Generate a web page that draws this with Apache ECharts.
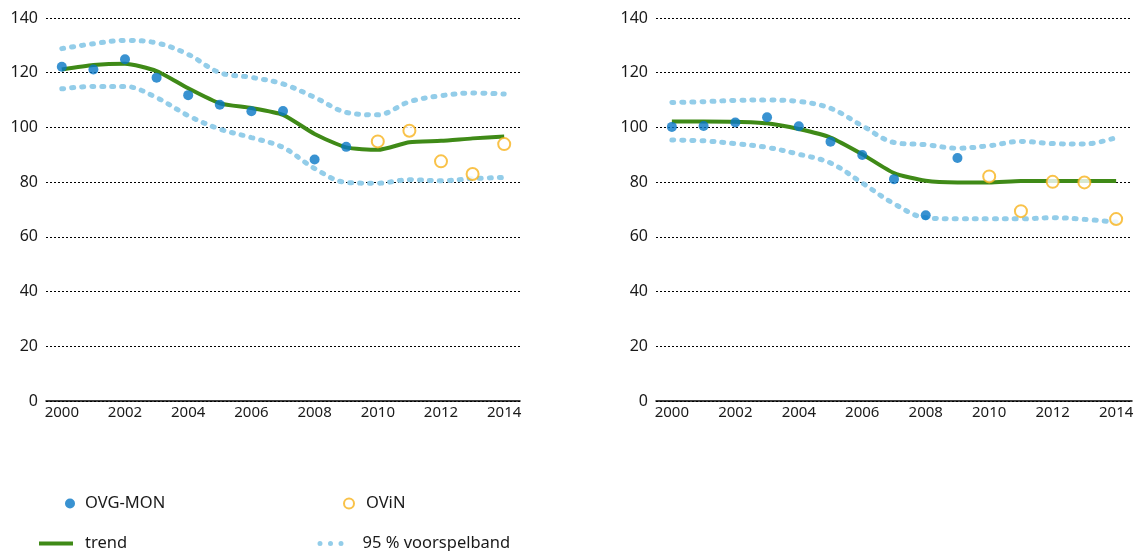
<!DOCTYPE html>
<html>
<head>
<meta charset="utf-8">
<script src="https://cdn.jsdelivr.net/npm/echarts@6/dist/echarts.min.js"></script>
<style>
  html, body { margin: 0; padding: 0; background: #fff; }
  #chart { width: 1144px; height: 551px; }
</style>
</head>
<body>
<div id="chart"></div>
<script>
// jaren op de x-as
var years = ['2000', '2001', '2002', '2003', '2004', '2005', '2006', '2007',
  '2008', '2009', '2010', '2011', '2012', '2013', '2014'];

// linker grafiek
var leftOvg = [122.2, 121.2, 124.9, 118.2, 111.8, 108.3, 105.9, 106.0, 88.3, 92.9,
  null, null, null, null, null];
var leftOvin = [null, null, null, null, null, null, null, null, null, null,
  94.9, 98.8, 87.6, 83.0, 93.9];
var leftTrend = [121.2, 122.8, 123.3, 120.6, 114.3, 108.8, 107.1, 104.6, 97.6, 92.7,
  91.8, 94.6, 95.1, 96.0, 96.7];
var leftUpper = [128.8, 130.6, 131.8, 130.9, 126.7, 120.0, 118.3, 115.9, 111.0, 105.5,
  104.6, 109.4, 111.6, 112.6, 112.2];
var leftLower = [114.1, 115.0, 115.0, 110.9, 104.3, 99.4, 96.3, 92.7, 85.0, 79.9,
  79.6, 80.9, 80.5, 81.3, 81.7];

// rechter grafiek
var rightOvg = [100.2, 100.5, 101.8, 103.7, 100.4, 94.8, 89.9, 81.1, 67.9, 88.8,
  null, null, null, null, null];
var rightOvin = [null, null, null, null, null, null, null, null, null, null,
  82.1, 69.4, 80.1, 79.9, 66.5];
var rightTrend = [102.2, 102.2, 102.1, 101.5, 99.4, 96.3, 90.2, 83.3, 80.5, 79.9,
  79.9, 80.4, 80.4, 80.4, 80.4];
var rightUpper = [109.1, 109.4, 109.9, 110.0, 109.5, 107.0, 100.6, 94.5, 93.7, 92.4,
  93.3, 94.9, 94.1, 93.9, 96.3];
var rightLower = [95.4, 95.1, 94.1, 92.7, 90.2, 87.0, 79.7, 72.1, 67.0, 66.6,
  66.6, 66.6, 67.0, 66.4, 65.4];

var FONT = 'Noto Sans';
var TEXT = '#1a1a1a';
var BLUE = '#0877c6';
var ORANGE = '#f7b31b';
var GREEN = '#3f8a17';
var BAND = '#93cde9';

// drie stipjes voor de legenda van de voorspelband
var DOTS = 'path://M0,2.5a2.5,2.5 0 1,0 5,0a2.5,2.5 0 1,0 -5,0Z' +
  'M10.5,2.5a2.5,2.5 0 1,0 5,0a2.5,2.5 0 1,0 -5,0Z' +
  'M21,2.5a2.5,2.5 0 1,0 5,0a2.5,2.5 0 1,0 -5,0Z';

var chart = echarts.init(document.getElementById('chart'));

function xAxisFor(idx) {
  return {
    type: 'category',
    gridIndex: idx,
    data: years,
    boundaryGap: true,
    axisLine: { lineStyle: { color: '#000', width: 1.5 } },
    axisTick: { inside: true, alignWithLabel: true, interval: 0, length: 7,
      lineStyle: { color: '#000', width: 1.2 } },
    axisLabel: { interval: 1, color: TEXT, fontFamily: FONT, fontSize: 15, margin: 4 }
  };
}

function yAxisFor(idx) {
  return {
    type: 'value',
    gridIndex: idx,
    min: 0, max: 140, interval: 20,
    axisLine: { show: false },
    axisTick: { show: false },
    axisLabel: { color: TEXT, fontFamily: FONT, fontSize: 16, margin: 8 },
    splitLine: { lineStyle: { color: '#000', type: [2, 2], width: 1 } }
  };
}

function seriesFor(idx, ovg, ovin, trend, upper, lower) {
  return [
    {
      name: '95 % voorspelband', type: 'line', xAxisIndex: idx, yAxisIndex: idx,
      data: upper, smooth: 0.35, showSymbol: false, symbol: 'none',
      lineStyle: { color: BAND, width: 5, type: [2, 8], cap: 'round' },
      itemStyle: { color: BAND }, z: 2
    },
    {
      name: '95 % voorspelband', type: 'line', xAxisIndex: idx, yAxisIndex: idx,
      data: lower, smooth: 0.35, showSymbol: false, symbol: 'none',
      lineStyle: { color: BAND, width: 5, type: [2, 8], cap: 'round' },
      itemStyle: { color: BAND }, z: 2
    },
    {
      name: 'trend', type: 'line', xAxisIndex: idx, yAxisIndex: idx,
      data: trend, smooth: 0.2, showSymbol: false, symbol: 'none',
      lineStyle: { color: GREEN, width: 4 },
      itemStyle: { color: GREEN }, z: 3
    },
    {
      name: 'OVG-MON', type: 'scatter', xAxisIndex: idx, yAxisIndex: idx,
      data: ovg, symbol: 'circle', symbolSize: 10,
      itemStyle: { color: BLUE }, z: 4
    },
    {
      name: 'OViN', type: 'scatter', xAxisIndex: idx, yAxisIndex: idx,
      data: ovin, symbol: 'emptyCircle', symbolSize: 12,
      itemStyle: { color: ORANGE, borderColor: ORANGE, borderWidth: 1.5 }, z: 4
    }
  ];
}

function legendFor(name, icon, left, top, w, h, pad) {
  return {
    data: [{ name: name, icon: icon }], left: left, top: top, itemWidth: w, itemHeight: h,
    padding: 0, selectedMode: false,
    textStyle: { color: TEXT, fontFamily: FONT, fontSize: 16.5, padding: [0, 0, 0, pad] }
  };
}

var option = {
  animation: false,
  backgroundColor: '#fff',
  grid: [
    { left: 46, right: 624, top: 18, bottom: 150 },
    { left: 656, right: 12, top: 18, bottom: 150 }
  ],
  xAxis: [xAxisFor(0), xAxisFor(1)],
  yAxis: [yAxisFor(0), yAxisFor(1)],
  legend: [
    legendFor('OVG-MON', 'circle', 65, 495, 10, 10, 5),
    legendFor('OViN', 'emptyCircle', 343, 495, 10, 10, 7),
    legendFor('trend', 'rect', 39, 535, 34, 4, 7),
    legendFor('95 % voorspelband', DOTS, 317.5, 535, 26, 5, 14)
  ],
  series: seriesFor(0, leftOvg, leftOvin, leftTrend, leftUpper, leftLower)
    .concat(seriesFor(1, rightOvg, rightOvin, rightTrend, rightUpper, rightLower))
};

chart.setOption(option);
</script>
</body>
</html>
